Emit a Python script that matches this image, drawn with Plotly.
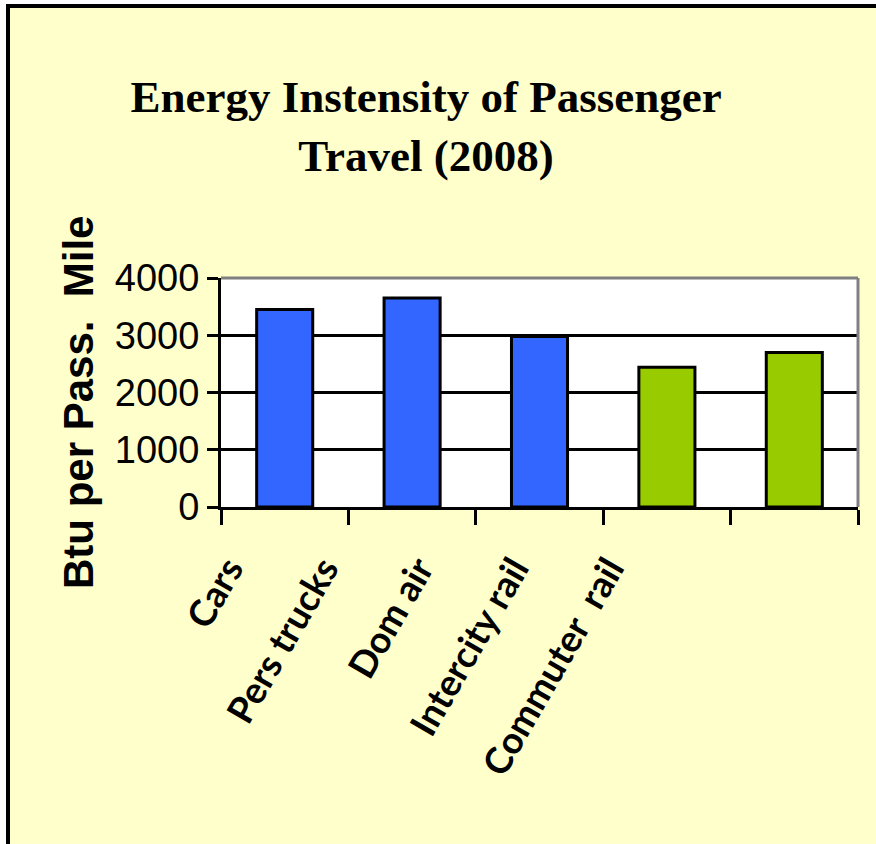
import plotly.graph_objects as go

categories = ["Cars", "Pers trucks", "Dom air", "Intercity rail", "Commuter  rail"]
values = [3450, 3650, 2980, 2440, 2700]
colors = ["#3366FF", "#3366FF", "#3366FF", "#99CC00", "#99CC00"]
ytick_vals = [0, 1000, 2000, 3000, 4000]
ytick_text = ["0", "1000", "2000", "3000", "4000"]
title_text = "Energy Instensity of Passenger<br>Travel (2008)"
ytitle = "Btu per Pass.  Mile"

W, H = 876, 844
ML, MR, MT, MB = 221, 18, 278, 844 - 507
PW = W - ML - MR
PH = H - MT - MB

def px(x):
    return (x - ML) / PW

def py(y):
    return (H - MB - y) / PH

fig = go.Figure()
fig.add_trace(go.Bar(
    x=categories, y=values, width=0.44,
    marker=dict(color=colors, line=dict(color="black", width=3)),
    showlegend=False, hoverinfo="x+y",
))
# invisible trace carrying the slanted category labels
fig.add_trace(go.Bar(
    x=categories, y=values, xaxis="x2", yaxis="y2",
    marker=dict(color="rgba(0,0,0,0)", line=dict(width=0)),
    showlegend=False, hoverinfo="skip",
))

fig.update_layout(
    width=W, height=H,
    margin=dict(l=ML, r=MR, t=MT, b=MB, autoexpand=False),
    paper_bgcolor="#FFFFCC",
    plot_bgcolor="rgba(0,0,0,0)",
    bargap=0.56,
    title=dict(
        text=title_text, x=(426 - ML) / PW, xref="paper", xanchor="center",
        y=1 - 112 / H, yref="container", yanchor="middle",
        font=dict(family="Liberation Serif", size=45, color="black", weight="bold"),
    ),
    xaxis=dict(
        type="category", categoryorder="array", categoryarray=categories,
        range=[-0.5, 4.5], domain=[0, 1],
        showticklabels=False, showgrid=False,
        showline=True, linecolor="black", linewidth=3,
        ticks="outside", tickson="boundaries", ticklen=15, tickwidth=3, tickcolor="black",
        fixedrange=True,
    ),
    xaxis2=dict(
        type="category", categoryorder="array", categoryarray=categories,
        range=[-0.5, 4.5], domain=[0, 476 / PW], anchor="y2",
        showgrid=False, showline=False, ticks="", zeroline=False,
        tickangle=-60, ticklabelstandoff=32, ticklabelshift=-40,
        tickfont=dict(family="Lato", size=37, color="black", weight="bold"),
        fixedrange=True,
    ),
    yaxis=dict(
        range=[0, 4000], tickvals=ytick_vals, ticktext=ytick_text,
        showgrid=True, gridcolor="black", gridwidth=3,
        showline=True, linecolor="black", linewidth=3,
        ticks="outside", ticklen=11, tickwidth=3, tickcolor="black",
        tickfont=dict(family="Liberation Sans", size=38, color="black"),
        zeroline=False,
        fixedrange=True,
    ),
    yaxis2=dict(
        range=[0, 4000], overlaying="y", visible=False, showgrid=False, zeroline=False,
        fixedrange=True,
    ),
    annotations=[
        dict(text=ytitle, xref="paper", yref="paper", x=px(78), y=py(403),
             xanchor="center", yanchor="middle", textangle=-90, showarrow=False,
             font=dict(family="Liberation Sans", size=42, color="black", weight="bold")),
    ],
    shapes=[
        # white plot area
        dict(type="rect", xref="x domain", yref="y domain", x0=0, x1=1, y0=0, y1=1,
             fillcolor="white", line=dict(width=0), layer="below"),
        # plot-area top and right border (gray)
        dict(type="line", xref="x domain", yref="y domain", x0=0, x1=1, y0=1, y1=1,
             line=dict(color="#808080", width=3), layer="above"),
        dict(type="line", xref="x domain", yref="y domain", x0=1, x1=1, y0=0, y1=1,
             line=dict(color="#808080", width=3), layer="above"),
        # white outside strips
        dict(type="rect", xref="paper", yref="paper", x0=px(-5), x1=px(6), y0=py(H + 5), y1=py(-5),
             fillcolor="white", line=dict(width=0), layer="above"),
        dict(type="rect", xref="paper", yref="paper", x0=px(-5), x1=px(W + 5), y0=py(4), y1=py(-5),
             fillcolor="white", line=dict(width=0), layer="above"),
        # black outer frame (left and top edges)
        dict(type="line", xref="paper", yref="paper", x0=px(8), x1=px(8), y0=py(H + 5), y1=py(4),
             line=dict(color="black", width=4), layer="above"),
        dict(type="line", xref="paper", yref="paper", x0=px(6), x1=px(W + 5), y0=py(6), y1=py(6),
             line=dict(color="black", width=4), layer="above"),
    ],
)

fig.write_html(
    "out.html",
    config={"displayModeBar": False},
    post_script="document.body.style.margin='0';document.body.style.overflow='hidden';",
)
